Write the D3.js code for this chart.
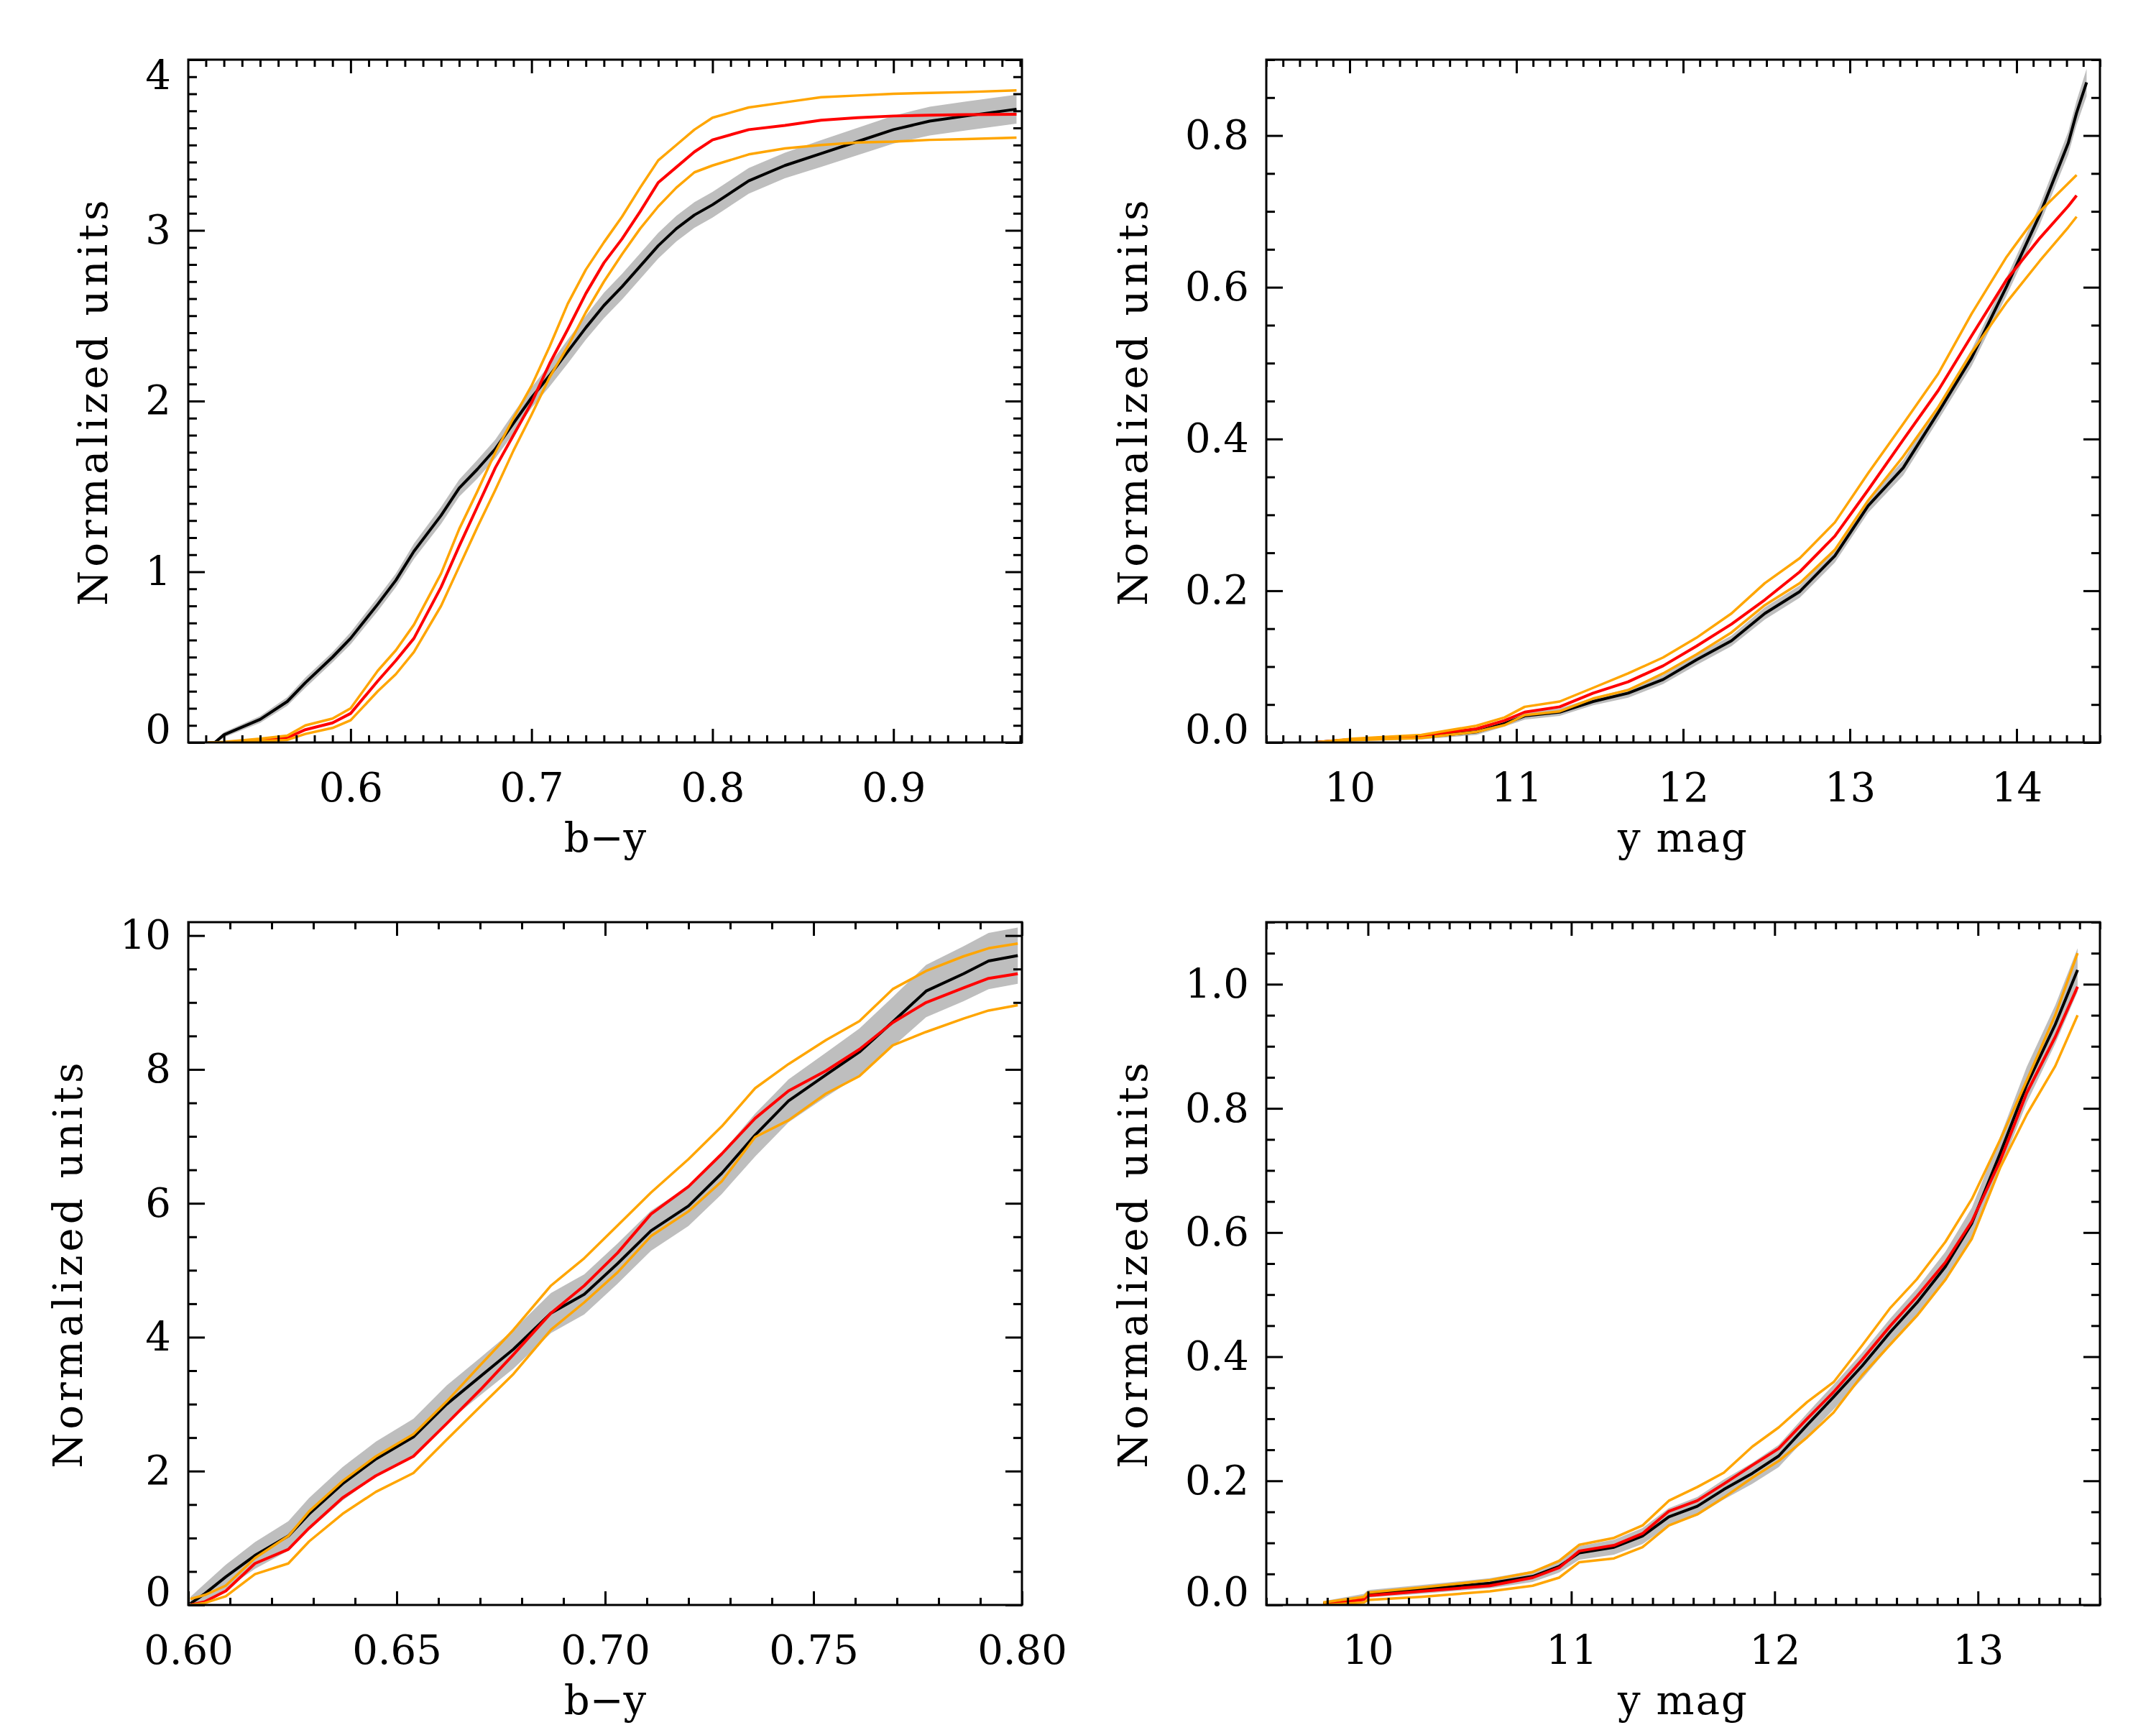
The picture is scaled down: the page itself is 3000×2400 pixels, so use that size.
<!DOCTYPE html>
<html>
<head>
<meta charset="utf-8">
<script src="https://cdn.jsdelivr.net/npm/d3@7"></script>
<style>
  body { margin: 0; background: #fff; }
  svg { display: block; background: #fff; }
</style>
</head>
<body>
<svg id="chart" width="3000" height="2400"></svg>
<script>
// ---- top-left: b-y, wide range ----
const p1X    = [0.521, 0.525, 0.53, 0.55, 0.565, 0.575, 0.59, 0.60, 0.615, 0.625, 0.635, 0.65, 0.66, 0.67, 0.68, 0.69, 0.70, 0.71, 0.72, 0.73, 0.74, 0.75, 0.76, 0.77, 0.78, 0.79, 0.80, 0.82, 0.84, 0.86, 0.88, 0.90, 0.92, 0.94, 0.968];
const p1Black = [null, 0, 0.045, 0.135, 0.24, 0.35, 0.50, 0.61, 0.81, 0.95, 1.12, 1.33, 1.49, 1.60, 1.72, 1.87, 2.02, 2.15, 2.29, 2.43, 2.56, 2.67, 2.79, 2.91, 3.01, 3.09, 3.15, 3.29, 3.38, 3.45, 3.52, 3.59, 3.64, 3.67, 3.71];
const p1Band = [null, 0.01, 0.015, 0.02, 0.025, 0.03, 0.03, 0.035, 0.04, 0.04, 0.045, 0.05, 0.05, 0.055, 0.055, 0.06, 0.06, 0.065, 0.07, 0.07, 0.075, 0.075, 0.075, 0.075, 0.075, 0.075, 0.075, 0.075, 0.075, 0.078, 0.08, 0.082, 0.084, 0.085, 0.085];
const p1Red  = [0, 0, 0, 0.015, 0.028, 0.075, 0.115, 0.17, 0.36, 0.48, 0.61, 0.91, 1.15, 1.38, 1.61, 1.80, 1.99, 2.22, 2.42, 2.63, 2.81, 2.95, 3.11, 3.28, 3.37, 3.46, 3.53, 3.59, 3.615, 3.645, 3.66, 3.67, 3.675, 3.678, 3.68];
const p1Hi   = [0, 0, 0.003, 0.022, 0.04, 0.10, 0.14, 0.20, 0.42, 0.54, 0.69, 0.99, 1.25, 1.47, 1.70, 1.90, 2.09, 2.32, 2.57, 2.77, 2.93, 3.08, 3.25, 3.41, 3.50, 3.59, 3.66, 3.72, 3.75, 3.78, 3.79, 3.80, 3.805, 3.81, 3.82];
const p1Lo   = [0, 0, 0, 0.008, 0.015, 0.05, 0.085, 0.13, 0.30, 0.40, 0.53, 0.80, 1.03, 1.26, 1.48, 1.71, 1.92, 2.14, 2.32, 2.52, 2.70, 2.86, 3.01, 3.14, 3.25, 3.34, 3.38, 3.445, 3.48, 3.50, 3.515, 3.52, 3.53, 3.535, 3.543];

// ---- top-right: y mag ----
const p2X    = [9.79, 10.02, 10.43, 10.76, 10.93, 11.05, 11.26, 11.46, 11.67, 11.88, 12.08, 12.29, 12.49, 12.70, 12.91, 13.11, 13.32, 13.53, 13.73, 13.94, 14.14, 14.31, 14.36, 14.42];
const p2Black = [0, 0.004, 0.007, 0.014, 0.025, 0.035, 0.040, 0.054, 0.065, 0.083, 0.109, 0.134, 0.170, 0.199, 0.246, 0.312, 0.362, 0.435, 0.507, 0.601, 0.696, 0.790, 0.83, 0.870];
const p2Band = [0, 0.002, 0.003, 0.004, 0.004, 0.005, 0.005, 0.005, 0.006, 0.006, 0.007, 0.007, 0.008, 0.008, 0.009, 0.009, 0.010, 0.010, 0.011, 0.012, 0.013, 0.015, 0.016, 0.018];
const p2Red  = [0, 0.004, 0.009, 0.018, 0.029, 0.040, 0.047, 0.065, 0.080, 0.101, 0.127, 0.156, 0.188, 0.225, 0.272, 0.333, 0.399, 0.464, 0.536, 0.610, 0.665, 0.707, 0.721, null];
const p2Hi   = [0, 0.005, 0.010, 0.022, 0.033, 0.047, 0.054, 0.072, 0.091, 0.112, 0.138, 0.170, 0.210, 0.243, 0.290, 0.355, 0.420, 0.486, 0.565, 0.640, 0.700, 0.737, 0.748, null];
const p2Lo   = [0, 0.003, 0.006, 0.014, 0.023, 0.036, 0.041, 0.058, 0.069, 0.091, 0.116, 0.145, 0.181, 0.210, 0.254, 0.319, 0.377, 0.442, 0.514, 0.580, 0.635, 0.679, 0.693, null];

// ---- bottom-left: b-y, narrow range ----
const p3X    = [0.6005, 0.604, 0.609, 0.616, 0.624, 0.629, 0.637, 0.645, 0.654, 0.662, 0.670, 0.678, 0.687, 0.695, 0.703, 0.711, 0.720, 0.728, 0.736, 0.744, 0.753, 0.761, 0.769, 0.777, 0.786, 0.792, 0.799];
const p3Black = [0.02, 0.17, 0.42, 0.74, 1.03, 1.36, 1.81, 2.18, 2.51, 3.00, 3.41, 3.82, 4.36, 4.64, 5.10, 5.59, 5.96, 6.45, 7.02, 7.53, 7.92, 8.26, 8.71, 9.17, 9.43, 9.62, 9.70];
const p3Band = [0.1, 0.15, 0.18, 0.2, 0.22, 0.24, 0.25, 0.26, 0.27, 0.28, 0.28, 0.29, 0.3, 0.3, 0.3, 0.3, 0.3, 0.31, 0.32, 0.32, 0.33, 0.35, 0.37, 0.39, 0.41, 0.42, 0.42];
const p3Red  = [0, 0.05, 0.21, 0.62, 0.83, 1.15, 1.60, 1.93, 2.22, 2.71, 3.21, 3.74, 4.36, 4.77, 5.26, 5.84, 6.25, 6.74, 7.27, 7.68, 7.98, 8.30, 8.70, 9.00, 9.22, 9.36, 9.43];
const p3Hi   = [0.09, 0.15, 0.29, 0.70, 1.03, 1.40, 1.85, 2.22, 2.55, 3.04, 3.58, 4.11, 4.77, 5.18, 5.67, 6.16, 6.66, 7.15, 7.72, 8.08, 8.44, 8.72, 9.20, 9.47, 9.69, 9.81, 9.88];
const p3Lo   = [0, 0.03, 0.13, 0.46, 0.62, 0.95, 1.36, 1.69, 1.97, 2.47, 2.96, 3.45, 4.11, 4.52, 4.97, 5.51, 5.88, 6.33, 6.99, 7.24, 7.64, 7.90, 8.36, 8.56, 8.76, 8.88, 8.96];

// ---- bottom-right: y mag ----
const p4X    = [9.78, 9.98, 10.0, 10.26, 10.60, 10.81, 10.94, 11.04, 11.21, 11.35, 11.48, 11.62, 11.75, 11.89, 12.02, 12.16, 12.29, 12.43, 12.57, 12.70, 12.84, 12.97, 13.11, 13.24, 13.38, 13.49];
const p4Black = [0.002, 0.012, 0.018, 0.025, 0.035, 0.046, 0.062, 0.084, 0.093, 0.111, 0.142, 0.159, 0.186, 0.212, 0.240, 0.290, 0.335, 0.385, 0.440, 0.487, 0.545, 0.615, 0.728, 0.838, 0.935, 1.023];
const p4Band = [0.004, 0.006, 0.006, 0.007, 0.008, 0.009, 0.01, 0.011, 0.012, 0.013, 0.014, 0.015, 0.016, 0.017, 0.018, 0.019, 0.02, 0.021, 0.022, 0.023, 0.024, 0.025, 0.027, 0.029, 0.031, 0.035];
const p4Red  = [0, 0.009, 0.015, 0.022, 0.031, 0.044, 0.060, 0.087, 0.096, 0.115, 0.151, 0.168, 0.195, 0.225, 0.252, 0.300, 0.343, 0.395, 0.450, 0.497, 0.552, 0.618, 0.716, 0.825, 0.915, 0.996];
const p4Hi   = [0.004, 0.013, 0.020, 0.028, 0.040, 0.053, 0.071, 0.097, 0.108, 0.128, 0.168, 0.190, 0.213, 0.255, 0.286, 0.327, 0.359, 0.418, 0.479, 0.525, 0.585, 0.654, 0.750, 0.845, 0.950, 1.050];
const p4Lo   = [0, 0.004, 0.008, 0.013, 0.022, 0.031, 0.044, 0.069, 0.075, 0.093, 0.128, 0.146, 0.173, 0.205, 0.232, 0.270, 0.310, 0.370, 0.420, 0.466, 0.524, 0.590, 0.705, 0.790, 0.868, 0.950];

// axis ranges and ticks
const p1XRange = [0.5103, 0.971], p1YRange = [0, 4];
const p2XRange = [9.5, 14.5],     p2YRange = [0, 0.9];
const p3XRange = [0.6, 0.8],      p3YRange = [0, 10.2];
const p4XRange = [9.5, 13.6],     p4YRange = [0, 1.1];

const p1XTicks = [0.6, 0.7, 0.8, 0.9],            p1YTicks = [0, 1, 2, 3, 4];
const p2XTicks = [10, 11, 12, 13, 14],            p2YTicks = [0, 0.2, 0.4, 0.6, 0.8];
const p3XTicks = [0.60, 0.65, 0.70, 0.75, 0.80],  p3YTicks = [0, 2, 4, 6, 8, 10];
const p4XTicks = [10, 11, 12, 13],                p4YTicks = [0, 0.2, 0.4, 0.6, 0.8, 1.0];

const xTitles = ['b\u2212y', 'y  mag', 'b\u2212y', 'y  mag'];
const yTitle = 'Normalized units';

const FONT = '"DejaVu Serif", "Liberation Serif", serif';
const FS = 56;
const W = 1160, H = 950;
// IDL-style tick lengths: x ticks scale with height, y ticks with width
const XMAJ = 19, XMIN = 10, YMAJ = 23, YMIN = 12;

const panels = [
  { left: 262,  top: 83,   x: p1X, black: p1Black, band: p1Band, red: p1Red, hi: p1Hi, lo: p1Lo,
    xRange: p1XRange, yRange: p1YRange, xTicks: p1XTicks, yTicks: p1YTicks, xMinor: 0.01, yMinor: 0.1,
    xFmt: '.1f', yFmt: 'd', xTitle: xTitles[0] },
  { left: 1762, top: 83,   x: p2X, black: p2Black, band: p2Band, red: p2Red, hi: p2Hi, lo: p2Lo,
    xRange: p2XRange, yRange: p2YRange, xTicks: p2XTicks, yTicks: p2YTicks, xMinor: 0.1, yMinor: 0.05,
    xFmt: 'd', yFmt: '.1f', xTitle: xTitles[1] },
  { left: 262,  top: 1283, x: p3X, black: p3Black, band: p3Band, red: p3Red, hi: p3Hi, lo: p3Lo,
    xRange: p3XRange, yRange: p3YRange, xTicks: p3XTicks, yTicks: p3YTicks, xMinor: 0.01, yMinor: 0.5,
    xFmt: '.2f', yFmt: 'd', xTitle: xTitles[2] },
  { left: 1762, top: 1283, x: p4X, black: p4Black, band: p4Band, red: p4Red, hi: p4Hi, lo: p4Lo,
    xRange: p4XRange, yRange: p4YRange, xTicks: p4XTicks, yTicks: p4YTicks, xMinor: 0.1, yMinor: 0.05,
    xFmt: 'd', yFmt: '.1f', xTitle: xTitles[3] }
];

const svg = d3.select('#chart');

function minorTicks(domain, step, majors) {
  const lo = Math.ceil(domain[0] / step - 1e-6), hi = Math.floor(domain[1] / step + 1e-6);
  return d3.range(lo, hi + 1).map(i => +(i * step).toFixed(6))
    .filter(v => !majors.some(m => Math.abs(m - v) < step / 10));
}

function styleAxis(sel) {
  sel.select('.domain').remove();
  sel.selectAll('.tick line').attr('stroke', '#000').attr('stroke-width', 3);
  sel.selectAll('text').attr('font-family', FONT).attr('font-size', FS).attr('fill', '#000');
}

function drawPanel(p, idx) {
  const g = svg.append('g').attr('transform', `translate(${p.left},${p.top})`);
  const x = d3.scaleLinear().domain(p.xRange).range([0, W]);
  const y = d3.scaleLinear().domain(p.yRange).range([H, 0]);

  const clipId = 'clip' + idx;
  g.append('clipPath').attr('id', clipId).append('rect').attr('width', W).attr('height', H);
  const plot = g.append('g').attr('clip-path', `url(#${clipId})`);

  const rows = p.x.map((xv, i) => ({ x: xv, k: p.black[i], s: p.band[i], r: p.red[i], hi: p.hi[i], lo: p.lo[i] }));

  plot.append('path').datum(rows.filter(d => d.k != null))
    .attr('fill', '#bebebe')
    .attr('d', d3.area().x(d => x(d.x)).y0(d => y(d.k - d.s)).y1(d => y(d.k + d.s)));

  const series = [
    { key: 'k',  color: '#000000', w: 4 },
    { key: 'r',  color: '#ff0000', w: 4 },
    { key: 'hi', color: '#ffa500', w: 3.5 },
    { key: 'lo', color: '#ffa500', w: 3.5 }
  ];
  series.forEach(s => {
    plot.append('path').datum(rows)
      .attr('fill', 'none')
      .attr('stroke', s.color)
      .attr('stroke-width', s.w)
      .attr('stroke-linejoin', 'round')
      .attr('d', d3.line().defined(d => d[s.key] != null).x(d => x(d.x)).y(d => y(d[s.key])));
  });

  const xMinors = minorTicks(p.xRange, p.xMinor, p.xTicks);
  const yMinors = minorTicks(p.yRange, p.yMinor, p.yTicks);

  // bottom with labels
  g.append('g').attr('transform', `translate(0,${H})`)
    .call(d3.axisBottom(x).tickValues(p.xTicks).tickSize(-XMAJ).tickPadding(42).tickFormat(d3.format(p.xFmt)))
    .call(styleAxis);
  g.append('g').attr('transform', `translate(0,${H})`)
    .call(d3.axisBottom(x).tickValues(xMinors).tickSize(-XMIN).tickFormat(''))
    .call(styleAxis);
  // top
  g.append('g').call(d3.axisTop(x).tickValues(p.xTicks).tickSize(-XMAJ).tickFormat('')).call(styleAxis);
  g.append('g').call(d3.axisTop(x).tickValues(xMinors).tickSize(-XMIN).tickFormat('')).call(styleAxis);
  // left with labels
  const yAx = g.append('g')
    .call(d3.axisLeft(y).tickValues(p.yTicks).tickSize(-YMAJ).tickPadding(24).tickFormat(d3.format(p.yFmt)))
    .call(styleAxis);
  g.append('g').call(d3.axisLeft(y).tickValues(yMinors).tickSize(-YMIN).tickFormat('')).call(styleAxis);
  // right
  g.append('g').attr('transform', `translate(${W},0)`)
    .call(d3.axisRight(y).tickValues(p.yTicks).tickSize(-YMAJ).tickFormat('')).call(styleAxis);
  g.append('g').attr('transform', `translate(${W},0)`)
    .call(d3.axisRight(y).tickValues(yMinors).tickSize(-YMIN).tickFormat('')).call(styleAxis);

  // labels at the ends of the y range are kept inside the frame
  yAx.selectAll('.tick text').attr('dy', d => {
    if (Math.abs(d - p.yRange[0]) < 1e-9) return '0em';
    if (Math.abs(d - p.yRange[1]) < 1e-9) return '0.73em';
    return '0.32em';
  });

  // frame
  g.append('rect').attr('width', W).attr('height', H)
    .attr('fill', 'none').attr('stroke', '#000').attr('stroke-width', 3);

  // titles
  let maxW = 0;
  yAx.selectAll('.tick text').each(function () { maxW = Math.max(maxW, this.getComputedTextLength()); });

  g.append('text')
    .attr('x', W / 2).attr('y', H + 152)
    .attr('text-anchor', 'middle')
    .attr('font-family', FONT).attr('font-size', FS)
    .attr('letter-spacing', p.xTitle.includes('mag') ? 2 : 0)
    .text(p.xTitle);

  const tx = -(24 + maxW + 53);
  g.append('text')
    .attr('transform', `translate(${tx},${H / 2}) rotate(-90)`)
    .attr('text-anchor', 'middle')
    .attr('font-family', FONT).attr('font-size', FS)
    .attr('letter-spacing', 5)
    .text(yTitle);
}

panels.forEach(drawPanel);
</script>
</body>
</html>
